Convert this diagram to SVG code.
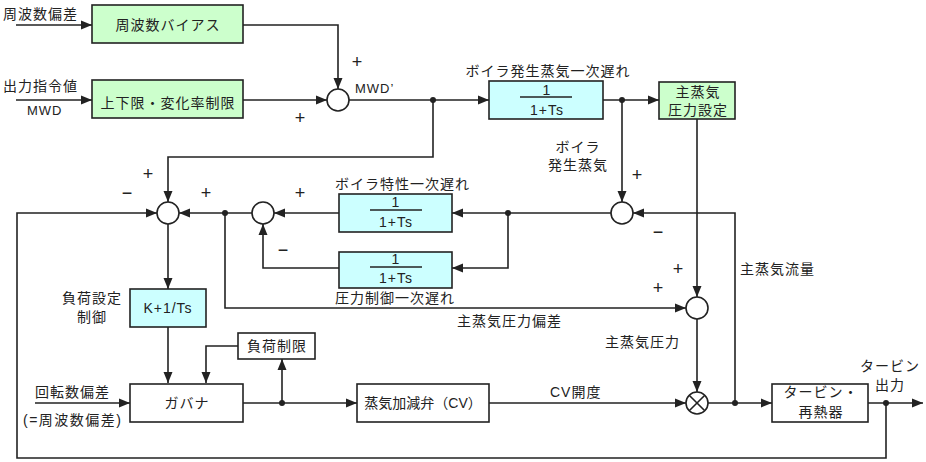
<svg xmlns="http://www.w3.org/2000/svg" width="926" height="462" viewBox="0 0 926 462">
<style>
text{font-family:"Liberation Sans","Noto Sans CJK JP",sans-serif;font-size:14px;fill:#222;letter-spacing:1px}
.c{text-anchor:middle}
.pm{font-family:"Liberation Sans",sans-serif;font-size:18px;text-anchor:middle;letter-spacing:0}
.g{fill:#ccffcc;stroke:#222;stroke-width:1.6}
.b{fill:#ccffff;stroke:#222;stroke-width:1.6}
.w{fill:#fff;stroke:#222;stroke-width:1.6}
.ln{fill:none;stroke:#222;stroke-width:1.6}
.a{fill:none;stroke:#222;stroke-width:1.6;marker-end:url(#ar)}
.d{fill:#222}
.s{font-size:13px}
</style>
<defs>
<marker id="ar" markerUnits="userSpaceOnUse" markerWidth="12" markerHeight="10" refX="11" refY="5" orient="auto">
<path d="M0,0.5 L11,5 L0,9.5 Z" fill="#222"/>
</marker>
</defs>
<g id="connectors">
<path class="a" d="M16,25 H92"/>
<path class="a" d="M16,100 H92"/>
<path class="a" d="M243,25 H338 V89"/>
<path class="a" d="M243,100 H327"/>
<path class="a" d="M349,100 H489"/>
<path class="a" d="M433,100 V157 H168 V202"/>
<path class="a" d="M603,100 H659"/>
<path class="a" d="M622,100 V202"/>
<path class="a" d="M697,119 V297"/>
<path class="a" d="M735,403 V213 H633"/>
<path class="a" d="M611,213 H452"/>
<path class="a" d="M508,213 V268 H452"/>
<path class="a" d="M339,268 H263 V224"/>
<path class="a" d="M339,213 H274"/>
<path class="a" d="M252,213 H179"/>
<path class="a" d="M225,213 V308 H686"/>
<path class="a" d="M697,319 V392"/>
<path class="a" d="M886,403 V458 H17 V213 H157"/>
<path class="a" d="M168,224 V289"/>
<path class="a" d="M168,327 V383"/>
<path class="a" d="M238,346 H206 V383"/>
<path class="a" d="M35,403 H130"/>
<path class="a" d="M243,403 H357"/>
<path class="a" d="M282,403 V359"/>
<path class="a" d="M489,403 H686"/>
<path class="a" d="M708,403 H772"/>
<path class="a" d="M868,403 H923"/>
<circle class="d" cx="433" cy="100" r="3"/>
<circle class="d" cx="622" cy="100" r="3"/>
<circle class="d" cx="508" cy="213" r="3"/>
<circle class="d" cx="225" cy="213" r="3"/>
<circle class="d" cx="282" cy="403" r="3"/>
<circle class="d" cx="735" cy="403" r="3"/>
<circle class="d" cx="886" cy="403" r="3"/>
</g>
<g id="labels">
<text x="3" y="19">周波数偏差</text>
<text x="3" y="91">出力指令値</text>
<text x="27" y="115" class="s">MWD</text>
<text x="355" y="93" class="s">MWD’</text>
<text x="357" y="68" class="pm">+</text>
<text x="300" y="124" class="pm">+</text>
<text x="548" y="76" class="c">ボイラ発生蒸気一次遅れ</text>
<text x="578" y="152" class="c">ボイラ</text>
<text x="578" y="170" class="c">発生蒸気</text>
<text x="637" y="181" class="pm">+</text>
<text x="658" y="238" class="pm">−</text>
<text x="740" y="274">主蒸気流量</text>
<text x="678" y="275" class="pm">+</text>
<text x="658" y="294" class="pm">+</text>
<text x="605" y="347">主蒸気圧力</text>
<text x="550" y="397">CV開度</text>
<text x="457" y="326">主蒸気圧力偏差</text>
<text x="335" y="303">圧力制御一次遅れ</text>
<text x="335" y="189">ボイラ特性一次遅れ</text>
<text x="148" y="180" class="pm">+</text>
<text x="127" y="199" class="pm">−</text>
<text x="206" y="199" class="pm">+</text>
<text x="300" y="199" class="pm">+</text>
<text x="283" y="256" class="pm">−</text>
<text x="92" y="303" class="c">負荷設定</text>
<text x="92" y="322" class="c">制御</text>
<text x="35" y="397">回転数偏差</text>
<text x="23" y="425" style="letter-spacing:1.5px">(=周波数偏差)</text>
<text x="890" y="371" class="c">タービン</text>
<text x="890" y="390" class="c">出力</text>
</g>
<g id="n-bias"><rect class="g" x="92" y="5" width="151" height="38"/><text x="168" y="30" class="c">周波数バイアス</text></g>
<g id="n-limit"><rect class="g" x="92" y="80" width="151" height="38"/><text x="168" y="108" class="c">上下限・変化率制限</text></g>
<g id="n-sum1"><circle class="w" cx="338" cy="100" r="11"/></g>
<g id="n-boilerlag"><rect class="b" x="489" y="81" width="114" height="38"/><text x="547" y="95" class="c">1</text><line class="ln" x1="520" y1="97" x2="572" y2="97"/><text x="547" y="115" class="c">1+Ts</text></g>
<g id="n-pset"><rect class="g" x="659" y="82" width="76" height="37"/><text x="698" y="97" class="c">主蒸気</text><text x="698" y="115" class="c">圧力設定</text></g>
<g id="n-sum-steam"><circle class="w" cx="622" cy="213" r="11"/></g>
<g id="n-charlag"><rect class="b" x="339" y="194" width="113" height="38"/><text x="396" y="207" class="c">1</text><line class="ln" x1="370" y1="210" x2="422" y2="210"/><text x="396" y="227" class="c">1+Ts</text></g>
<g id="n-preslag"><rect class="b" x="339" y="252" width="113" height="36"/><text x="396" y="264" class="c">1</text><line class="ln" x1="370" y1="267" x2="422" y2="267"/><text x="396" y="283" class="c">1+Ts</text></g>
<g id="n-sum-mid"><circle class="w" cx="263" cy="213" r="11"/></g>
<g id="n-sum-left"><circle class="w" cx="168" cy="213" r="11"/></g>
<g id="n-sum-pres"><circle class="w" cx="697" cy="308" r="11"/></g>
<g id="n-mult"><circle class="w" cx="697" cy="403" r="11"/><path class="ln" d="M689.2,395.2 L704.8,410.8 M704.8,395.2 L689.2,410.8"/></g>
<g id="n-pi"><rect class="b" x="130" y="289" width="76" height="38"/><text x="168" y="313" class="c">K+1/Ts</text></g>
<g id="n-loadlimit"><rect class="w" x="238" y="333" width="77" height="26"/><text x="277" y="351" class="c">負荷制限</text></g>
<g id="n-governor"><rect class="w" x="130" y="384" width="113" height="38"/><text x="187" y="408" class="c">ガバナ</text></g>
<g id="n-cv"><rect class="w" x="357" y="384" width="132" height="38"/><text x="423" y="408" class="c" style="letter-spacing:0">蒸気加減弁（CV）</text></g>
<g id="n-turbine"><rect class="w" x="772" y="384" width="96" height="38"/><text x="821" y="397" class="c">タービン・</text><text x="821" y="417" class="c">再熱器</text></g>
</svg>
